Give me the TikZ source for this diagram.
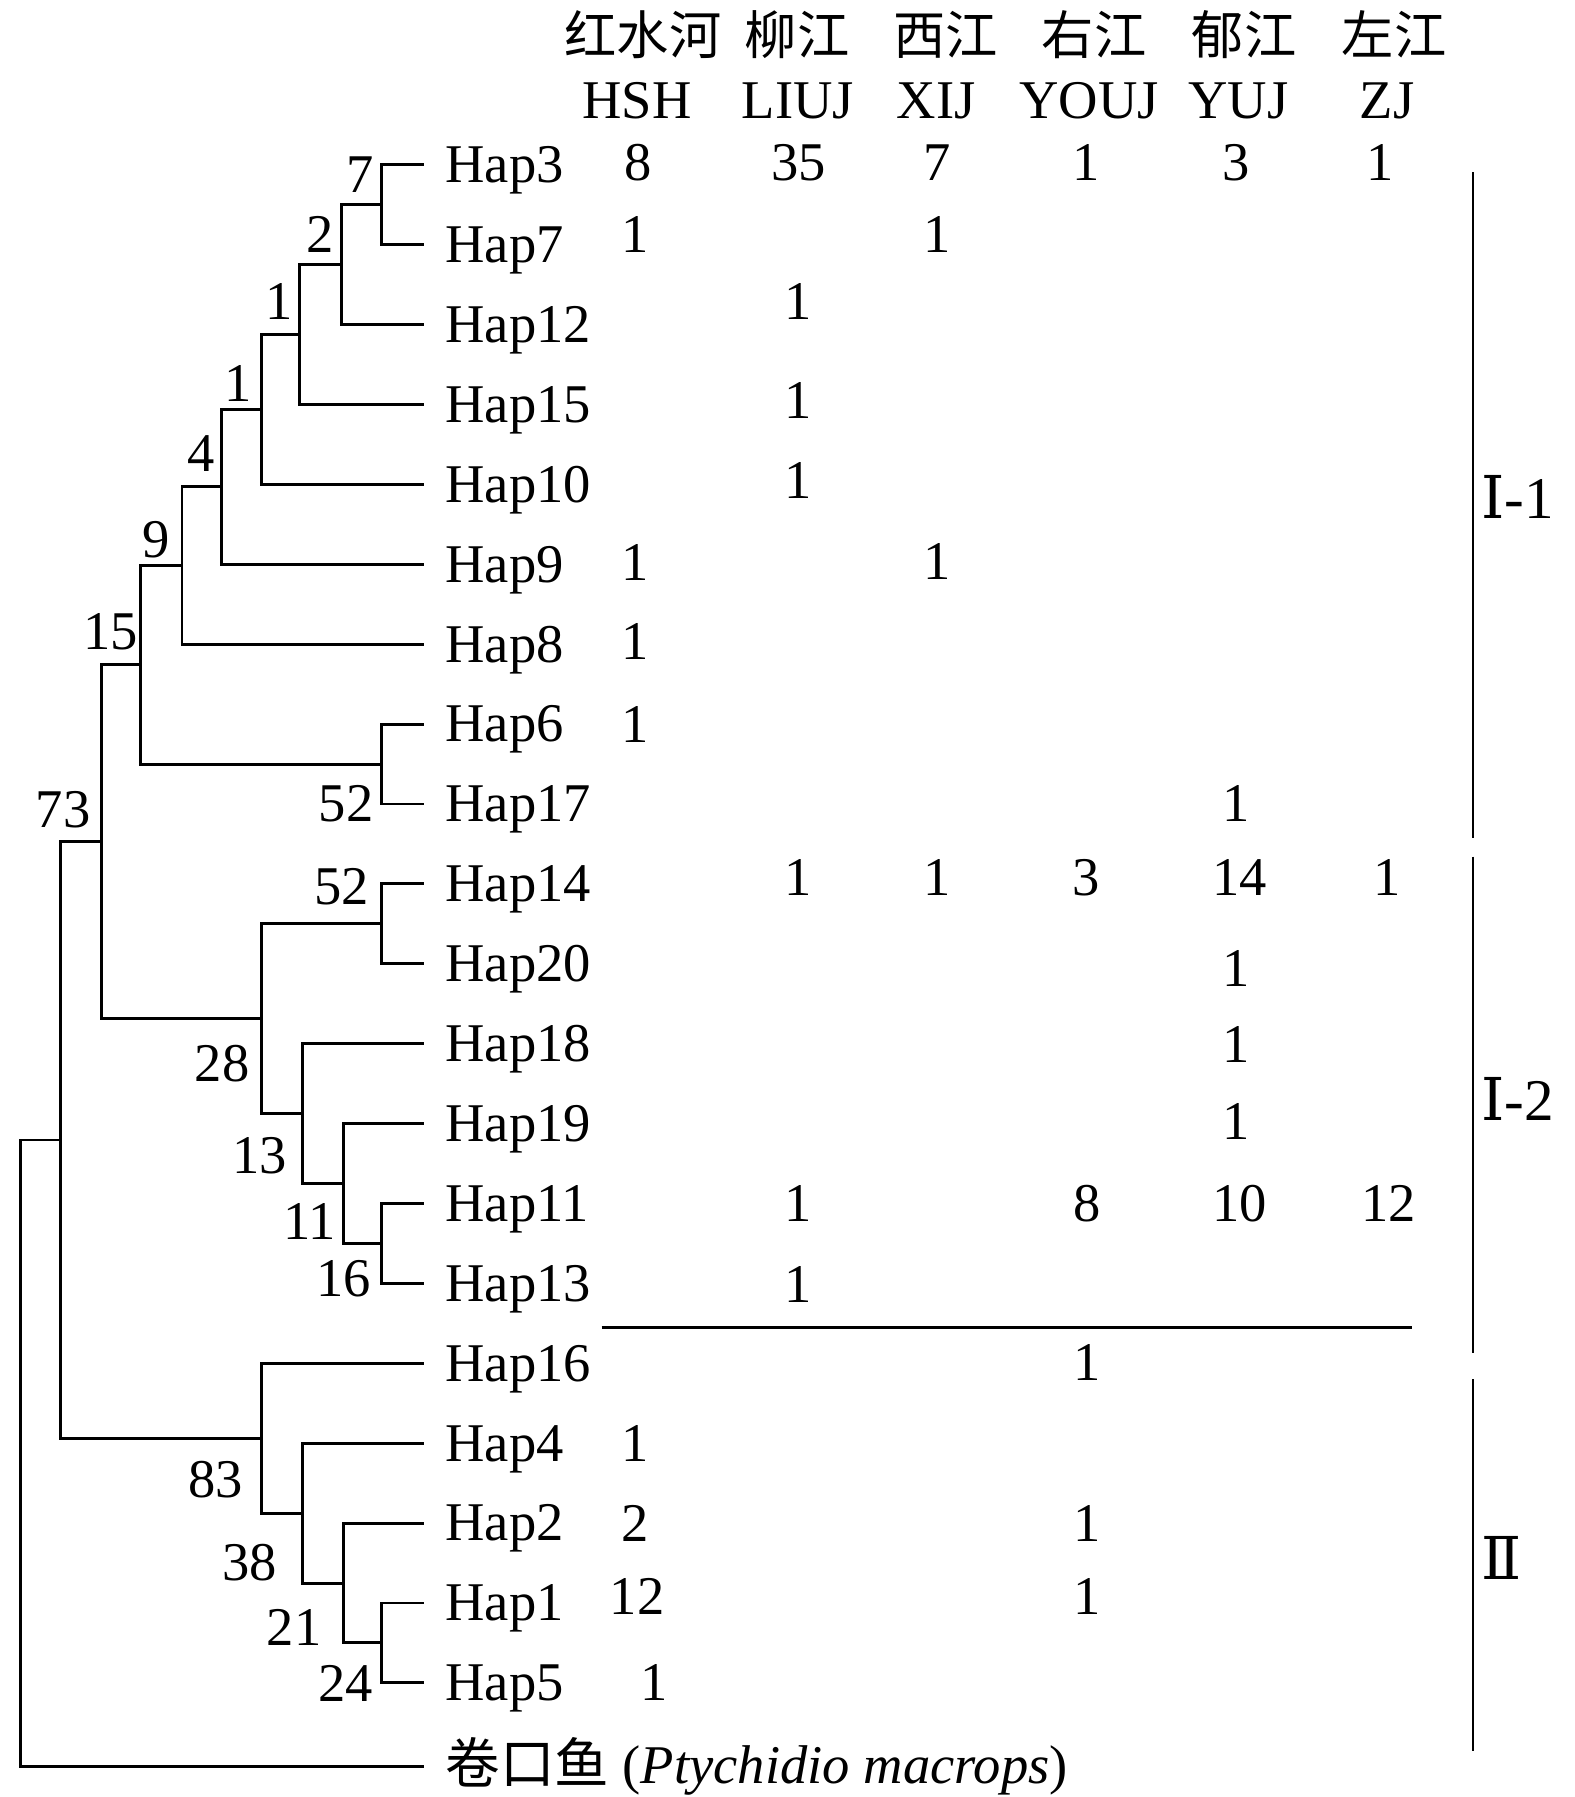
\documentclass[tikz,border=0pt]{standalone}
\usepackage{fontspec}
\setmainfont{Liberation Serif}
\newfontfamily\cjk{Noto Sans CJK SC}
\newfontfamily\numeralfont{DejaVu Serif}
\usepackage{tikz}

\begin{document}
\begin{tikzpicture}[x=0.44pt, y=-0.44pt, line width=1.3pt,
  hap/.style={anchor=west, inner xsep=9pt, inner ysep=0pt, text height=15.7pt, text depth=0pt, font=\fontsize{24}{28}\selectfont},
  num/.style={inner sep=0pt, text height=15.7pt, text depth=0pt, font=\fontsize{24}{28}\selectfont},
  river/.style={inner sep=0pt, text height=20.2pt, text depth=2.8pt, font=\fontsize{23}{28}\selectfont\cjk},
  clade/.style={anchor=west, inner sep=0pt, text height=17pt, text depth=0pt, font=\fontsize{26}{30}\selectfont}]

  \newcommand\RowO{164.8}
  \newcommand\RowH{79.9}

  \useasboundingbox (0,0) rectangle (1575,1797);

  % river names
  \foreach \cn/\xc/\en/\xe in {红水河/642.9/HSH/637, 柳江/797/LIUJ/798, 西江/945.7/XIJ/936,
      右江/1094/YOUJ/1089, 郁江/1244/YUJ/1238.5, 左江/1394/ZJ/1387}{
    \node[river] (cn-\en) at (\xc, 34.4) {\cn};
    \node[num] (\en) at (\xe, 100.5) {\en};
  }

  % haplotypes
  \foreach \h/\i in {Hap3/0, Hap7/1, Hap12/2, Hap15/3, Hap10/4, Hap9/5, Hap8/6, Hap6/7,
      Hap17/8, Hap14/9, Hap20/10, Hap18/11, Hap19/12, Hap11/13, Hap13/14, Hap16/15,
      Hap4/16, Hap2/17, Hap1/18, Hap5/19}
    \node[hap] (\h) at (423.6, \RowO+\RowH*\i) {\h};
  \node[hap] (Pm) at (423.6, 1766) {{\cjk 卷口鱼} (\textit{Ptychidio macrops})};

  % inner nodes
  \coordinate (n7)  at (381.7, \RowO+\RowH*0.5);
  \coordinate (n2)  at (341.6, \RowO+\RowH*1.25);
  \coordinate (n1a) at (299.7, \RowO+\RowH*2.125);
  \coordinate (n1b) at (261.2, \RowO+\RowH*3.0625);
  \coordinate (n4)  at (221.6, \RowO+\RowH*4.03125);
  \coordinate (n9)  at (182.0, \RowO+\RowH*5.015625);
  \coordinate (n52a) at (381.7, \RowO+\RowH*7.5);
  \coordinate (n15) at (140.6, \RowO+\RowH*6.2578);
  \coordinate (n52b) at (381.7, \RowO+\RowH*9.5);
  \coordinate (n16) at (381.7, \RowO+\RowH*13.5);
  \coordinate (n11) at (343.3, \RowO+\RowH*12.75);
  \coordinate (n13) at (302.5, \RowO+\RowH*11.875);
  \coordinate (n28) at (261.2, \RowO+\RowH*10.6875);
  \coordinate (n73) at (101.6, \RowO+\RowH*8.4727);
  \coordinate (n24) at (381.7, \RowO+\RowH*18.5);
  \coordinate (n21) at (343.3, \RowO+\RowH*17.75);
  \coordinate (n38) at (302.5, \RowO+\RowH*16.875);
  \coordinate (n83) at (261.2, \RowO+\RowH*15.9375);
  \coordinate (nin) at (60.3, 1140);
  \coordinate (nroot) at (20.1, 1453);

  % branches
  \draw (Hap3.west) -| (n7) |- (Hap7.west);
  \draw (n7) -| (n2) |- (Hap12.west);
  \draw (n2) -| (n1a) |- (Hap15.west);
  \draw (n1a) -| (n1b) |- (Hap10.west);
  \draw (n1b) -| (n4) |- (Hap9.west);
  \draw (n4) -| (n9) |- (Hap8.west);
  \draw (Hap6.west) -| (n52a) |- (Hap17.west);
  \draw (n9) -| (n15) |- (n52a);
  \draw (Hap14.west) -| (n52b) |- (Hap20.west);
  \draw (Hap11.west) -| (n16) |- (Hap13.west);
  \draw (Hap19.west) -| (n11) |- (n16);
  \draw (Hap18.west) -| (n13) |- (n11);
  \draw (n52b) -| (n28) |- (n13);
  \draw (n15) -| (n73) |- (n28);
  \draw (Hap1.west) -| (n24) |- (Hap5.west);
  \draw (Hap2.west) -| (n21) |- (n24);
  \draw (Hap4.west) -| (n38) |- (n21);
  \draw (Hap16.west) -| (n83) |- (n38);
  \draw (n73) -| (nin) |- (n83);
  \draw (nin) -| (nroot) |- (Pm.west);

  % support values
  \foreach \x/\y/\v [count=\k] in {360.5/175/7, 319.7/234.2/2, 279.6/301.4/1, 237.7/383.5/1,
      201/453.5/4, 156/539.6/9, 110.8/631.5/15, 63/809.4/73, 346/803.7/52, 341.6/887/52,
      222.2/1063.5/28, 259.5/1155.3/13, 310/1221.3/11, 343.3/1278.7/16, 215.3/1479.7/83,
      249.7/1562.9/38, 294/1627.2/21, 345.6/1683.4/24}
    \node[num] (bs\k) at (\x, \y) {\v};

  % counts per river
  \foreach \x/\y/\v [count=\k] in {638.4/162.5/8, 635.5/234.2/1, 635.5/562.6/1, 635.5/641.8/1,
      635.5/724.5/1, 635.5/1444/1, 635.5/1523.9/2, 637/1596.2/12, 654.4/1682.3/1,
      798.4/162.5/35, 798.4/301.4/1, 798.4/400.7/1, 798.4/481/1, 798.4/878/1,
      798.4/1204.1/1, 798.4/1284.5/1,
      937.3/162.5/7, 937.3/234.2/1, 937.3/561.4/1, 937.3/878/1,
      1086.6/162.5/1, 1086.6/878/3, 1087.2/1204.1/8, 1087.2/1363.1/1, 1087.2/1523.9/1,
      1087.2/1596.2/1,
      1236.4/162.5/3, 1236.4/803.7/1, 1239.3/878/14, 1236.4/968.8/1, 1236.4/1045.1/1,
      1236.4/1122/1, 1239.3/1204.1/10,
      1380/162.5/1, 1386.8/878/1, 1388.6/1204.1/12}
    \node[num] (cnt\k) at (\x, \y) {\v};

  % line under Hap13
  \coordinate (sepL) at (601.6, 1327.5);
  \coordinate (sepR) at (1411.5, 1327.5);
  \draw (sepL) -- (sepR);

  % clades
  \coordinate (b1t) at (1473, 172.2);
  \coordinate (b1b) at (1473, 838.1);
  \coordinate (b2t) at (1473, 856.5);
  \coordinate (b2b) at (1473, 1353.4);
  \coordinate (b3t) at (1473, 1379.2);
  \coordinate (b3b) at (1473, 1751.2);
  \draw (b1t) -- (b1b);
  \draw (b2t) -- (b2b);
  \draw (b3t) -- (b3b);
  \node[clade] (cI1) at (1480, 499.4) {{\numeralfont Ⅰ}-1};
  \node[clade] (cI2) at (1480, 1100.8) {{\numeralfont Ⅰ}-2};
  \node[clade] (cII) at (1480, 1560) {{\numeralfont Ⅱ}};

\end{tikzpicture}
\end{document}
